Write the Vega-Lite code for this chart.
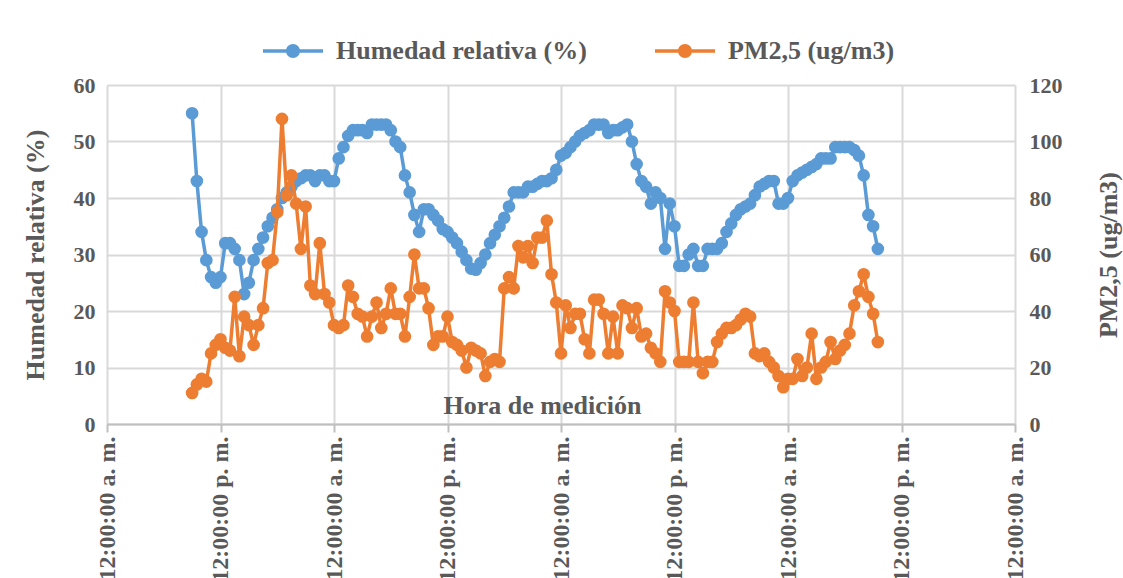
{
"$schema": "https://vega.github.io/schema/vega-lite/v6.json",
"width": 908, "height": 339,
"autosize": {"type": "none"},
"padding": {"left": 107, "top": 85, "right": 108, "bottom": 154},
"background": "white",
"config": {"view": {"stroke": null}, "font": "Liberation Serif"},
"data": {"values": [
{"h":9,"rh":55,"pm":11},{"h":9.5,"rh":43,"pm":14},{"h":10,"rh":34,"pm":16},{"h":10.5,"rh":29,"pm":15},{"h":11,"rh":26,"pm":25},{"h":11.5,"rh":25,"pm":28},{"h":12,"rh":26,"pm":30},{"h":12.5,"rh":32,"pm":27},{"h":13,"rh":32,"pm":26},{"h":13.5,"rh":31,"pm":45},{"h":14,"rh":29,"pm":24},{"h":14.5,"rh":23,"pm":38},{"h":15,"rh":25,"pm":35},{"h":15.5,"rh":29,"pm":28},{"h":16,"rh":31,"pm":35},{"h":16.5,"rh":33,"pm":41},{"h":17,"rh":35,"pm":57},{"h":17.5,"rh":36.5,"pm":58},{"h":18,"rh":38,"pm":75},{"h":18.5,"rh":40,"pm":108},{"h":19,"rh":41,"pm":81},{"h":19.5,"rh":42,"pm":88},{"h":20,"rh":43,"pm":78},{"h":20.5,"rh":43.5,"pm":62},{"h":21,"rh":44,"pm":77},{"h":21.5,"rh":44,"pm":49},{"h":22,"rh":43,"pm":46},{"h":22.5,"rh":44,"pm":64},{"h":23,"rh":44,"pm":46},{"h":23.5,"rh":43,"pm":43},{"h":24,"rh":43,"pm":35},{"h":24.5,"rh":47,"pm":34},{"h":25,"rh":49,"pm":35},{"h":25.5,"rh":51,"pm":49},{"h":26,"rh":52,"pm":45},{"h":26.5,"rh":52,"pm":39},{"h":27,"rh":52,"pm":38},{"h":27.5,"rh":51.5,"pm":31},{"h":28,"rh":53,"pm":38},{"h":28.5,"rh":53,"pm":43},{"h":29,"rh":53,"pm":34},{"h":29.5,"rh":53,"pm":39},{"h":30,"rh":52,"pm":48},{"h":30.5,"rh":50,"pm":39},{"h":31,"rh":49,"pm":39},{"h":31.5,"rh":44,"pm":31},{"h":32,"rh":41,"pm":45},{"h":32.5,"rh":37,"pm":60},{"h":33,"rh":34,"pm":48},{"h":33.5,"rh":38,"pm":48},{"h":34,"rh":38,"pm":41},{"h":34.5,"rh":37,"pm":28},{"h":35,"rh":36,"pm":31},{"h":35.5,"rh":34.5,"pm":31},{"h":36,"rh":34,"pm":38},{"h":36.5,"rh":33,"pm":29},{"h":37,"rh":32,"pm":28},{"h":37.5,"rh":30.5,"pm":26},{"h":38,"rh":29,"pm":20},{"h":38.5,"rh":27.5,"pm":27},{"h":39,"rh":27.3,"pm":26},{"h":39.5,"rh":28.5,"pm":25},{"h":40,"rh":30,"pm":17},{"h":40.5,"rh":32,"pm":22},{"h":41,"rh":33.5,"pm":23},{"h":41.5,"rh":35,"pm":22},{"h":42,"rh":36.5,"pm":48},{"h":42.5,"rh":38.5,"pm":52},{"h":43,"rh":41,"pm":48},{"h":43.5,"rh":41,"pm":63},{"h":44,"rh":41,"pm":59},{"h":44.5,"rh":42,"pm":63},{"h":45,"rh":42,"pm":57},{"h":45.5,"rh":42.5,"pm":66},{"h":46,"rh":43,"pm":66},{"h":46.5,"rh":43,"pm":72},{"h":47,"rh":43.5,"pm":53},{"h":47.5,"rh":45,"pm":43},{"h":48,"rh":47.5,"pm":25},{"h":48.5,"rh":48,"pm":42},{"h":49,"rh":49,"pm":34},{"h":49.5,"rh":50,"pm":39},{"h":50,"rh":51,"pm":39},{"h":50.5,"rh":51.5,"pm":30},{"h":51,"rh":52,"pm":25},{"h":51.5,"rh":53,"pm":44},{"h":52,"rh":53,"pm":44},{"h":52.5,"rh":53,"pm":39},{"h":53,"rh":51.5,"pm":25},{"h":53.5,"rh":52,"pm":38},{"h":54,"rh":52,"pm":25},{"h":54.5,"rh":52.5,"pm":42},{"h":55,"rh":53,"pm":41},{"h":55.5,"rh":50,"pm":34},{"h":56,"rh":46,"pm":41},{"h":56.5,"rh":43,"pm":31},{"h":57,"rh":42,"pm":32},{"h":57.5,"rh":39,"pm":27},{"h":58,"rh":41,"pm":25},{"h":58.5,"rh":40,"pm":22},{"h":59,"rh":31,"pm":47},{"h":59.5,"rh":39,"pm":43},{"h":60,"rh":35,"pm":40},{"h":60.5,"rh":28,"pm":22},{"h":61,"rh":28,"pm":22},{"h":61.5,"rh":30,"pm":22},{"h":62,"rh":31,"pm":43},{"h":62.5,"rh":28,"pm":22},{"h":63,"rh":28,"pm":18},{"h":63.5,"rh":31,"pm":22},{"h":64,"rh":31,"pm":22},{"h":64.5,"rh":31,"pm":29},{"h":65,"rh":32,"pm":32},{"h":65.5,"rh":34,"pm":34},{"h":66,"rh":35.5,"pm":34},{"h":66.5,"rh":37,"pm":35},{"h":67,"rh":38,"pm":37},{"h":67.5,"rh":38.5,"pm":39},{"h":68,"rh":39,"pm":38},{"h":68.5,"rh":40.5,"pm":25},{"h":69,"rh":42,"pm":24},{"h":69.5,"rh":42.5,"pm":25},{"h":70,"rh":43,"pm":22},{"h":70.5,"rh":43,"pm":20},{"h":71,"rh":39,"pm":17},{"h":71.5,"rh":39,"pm":13},{"h":72,"rh":40,"pm":16},{"h":72.5,"rh":43,"pm":16},{"h":73,"rh":44,"pm":23},{"h":73.5,"rh":44.5,"pm":17},{"h":74,"rh":45,"pm":20},{"h":74.5,"rh":45.5,"pm":32},{"h":75,"rh":46,"pm":16},{"h":75.5,"rh":47,"pm":20},{"h":76,"rh":47,"pm":22},{"h":76.5,"rh":47,"pm":29},{"h":77,"rh":49,"pm":23},{"h":77.5,"rh":49,"pm":26},{"h":78,"rh":49,"pm":28},{"h":78.5,"rh":49,"pm":32},{"h":79,"rh":48.5,"pm":42},{"h":79.5,"rh":47.5,"pm":47},{"h":80,"rh":44,"pm":53},{"h":80.5,"rh":37,"pm":45},{"h":81,"rh":35,"pm":39},{"h":81.5,"rh":31,"pm":29}
]},
"encoding": {
  "x": {"field": "h", "type": "quantitative", "title": "Hora de medición",
    "scale": {"domain": [0, 96], "nice": false, "zero": false},
    "axis": {"values": [0,12,24,36,48,60,72,84,96],
      "labelExpr": "datum.value % 24 == 0 ? '12:00:00 a. m.' : '12:00:00 p. m.'",
      "labelAngle": 270, "labelFontSize": 24, "labelFontWeight": "bold", "labelColor": "#595959",
      "labelPadding": 4, "labelFlush": false, "labelOverlap": false,
      "domainColor": "#bfbfbf", "domainWidth": 2, "tickColor": "#bfbfbf", "tickSize": 8, "tickWidth": 2,
      "grid": true, "gridColor": "#d9d9d9", "gridWidth": 2,
      "titleX": 435, "titleY": -11, "titleBaseline": "alphabetic", "titleAlign": "center",
      "titleFontSize": 26, "titleFontWeight": "bold", "titleColor": "#595959"}}
},
"layer": [
  {
    "encoding": {"y": {"field": "rh", "type": "quantitative", "title": "Humedad relativa (%)",
      "scale": {"domain": [0, 60], "nice": false},
      "axis": {"orient": "left", "values": [0,10,20,30,40,50,60], "domain": false, "ticks": false,
        "grid": true, "gridColor": "#d9d9d9", "gridWidth": 2,
        "labelPadding": 12, "labelFontSize": 22, "labelFontWeight": "bold", "labelColor": "#595959",
        "titleFontSize": 26, "titleFontWeight": "bold", "titleColor": "#595959",
        "titleX": -72, "titleY": 169.5, "titleAngle": 270, "titleBaseline": "middle", "titleAlign": "center"}}},
    "layer": [
      {"mark": {"type": "line", "color": "#5B9BD5", "strokeWidth": 3.5}},
      {"mark": {"type": "point", "filled": true, "size": 160, "opacity": 1},
       "encoding": {"color": {"datum": "Humedad relativa (%)",
         "scale": {"domain": ["Humedad relativa (%)", "PM2,5 (ug/m3)"], "range": ["#5B9BD5", "#ED7D31"]},
         "legend": {"orient": "none", "legendX": 173, "legendY": -47, "direction": "horizontal", "title": null,
           "symbolType": "M-3,-0.17L3,-0.17L3,0.17L-3,0.17Z M0,-0.7A0.7,0.7 0 1,1 0,0.7A0.7,0.7 0 1,1 0,-0.7Z",
           "symbolSize": 400, "symbolStrokeWidth": 0,
           "labelFontSize": 26, "labelFontWeight": "bold", "labelColor": "#595959", "labelLimit": 600,
           "labelOffset": 30, "columnPadding": 68}}}}
    ]
  },
  {
    "encoding": {"y": {"field": "pm", "type": "quantitative", "title": "PM2,5 (ug/m3)",
      "scale": {"domain": [0, 120], "nice": false},
      "axis": {"orient": "right", "values": [0,20,40,60,80,100,120], "domain": false, "ticks": false,
        "grid": false,
        "labelPadding": 14, "labelFontSize": 22, "labelFontWeight": "bold", "labelColor": "#595959",
        "titleFontSize": 26, "titleFontWeight": "bold", "titleColor": "#595959",
        "titleX": 93, "titleY": 169.5, "titleAngle": 270, "titleBaseline": "middle", "titleAlign": "center"}}},
    "layer": [
      {"mark": {"type": "line", "color": "#ED7D31", "strokeWidth": 3.5}},
      {"mark": {"type": "point", "filled": true, "size": 160, "opacity": 1},
       "encoding": {"color": {"datum": "PM2,5 (ug/m3)"}}}
    ]
  }
],
"resolve": {"scale": {"y": "independent"}}
}
